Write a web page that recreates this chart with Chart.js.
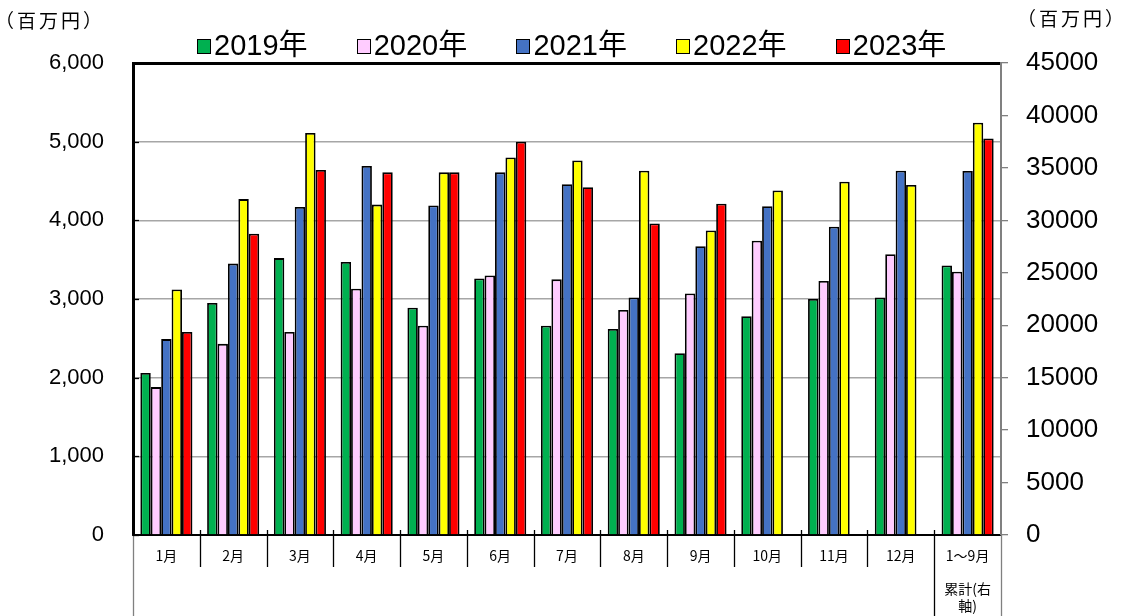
<!DOCTYPE html>
<html>
<head>
<meta charset="utf-8">
<script src="https://cdn.jsdelivr.net/npm/chart.js@4/dist/chart.umd.min.js"></script>
<style>
  html, body { margin: 0; padding: 0; background: #fff; }
  #wrap { position: relative; width: 1121px; height: 616px; }
  #c { position: absolute; left: 0; top: 0; }
  .unit { position: absolute; font-family: "Noto Sans CJK JP", sans-serif; font-size: 19px; letter-spacing: 3px; color: #000; line-height: 1; white-space: nowrap; }
  #legend { position: absolute; left: 197px; top: 28px; display: flex; }
  .li { width: 159.7px; display: flex; align-items: center; height: 34px; }
  .box { width: 12px; height: 13px; border: 1.6px solid #000; margin-right: 3px; margin-top: 2px; box-sizing: content-box; }
  .lt { font-family: "Liberation Sans", "Noto Sans CJK JP", sans-serif; font-size: 29px; color: #000; line-height: 1; }
</style>
</head>
<body>
<div id="wrap">
  <canvas id="c" width="1121" height="616"></canvas>
  <div class="unit" style="left:-5px; top:10px;">（百万円）</div>
  <div class="unit" style="left:1017px; top:8px;">（百万円）</div>
  <div id="legend"></div>
</div>
<script>
// ---- data ----
const categories = ['1月','2月','3月','4月','5月','6月','7月','8月','9月','10月','11月','12月',['1～9月','','累計(右','軸)']];
const years = ['2019年','2020年','2021年','2022年','2023年'];
const colors = ['#00B050','#FFCCFF','#4472C4','#FFFF00','#FF0000'];
const m2019 = [2060, 2950, 3520, 3470, 2890, 3260, 2660, 2620, 2310, 2780, 3000, 3020];
const m2020 = [1880, 2430, 2580, 3130, 2660, 3300, 3250, 2860, 3070, 3740, 3230, 3570];
const m2021 = [2490, 3450, 4170, 4690, 4190, 4610, 4460, 3020, 3670, 4180, 3920, 4630];
const m2022 = [3120, 4270, 5110, 4200, 4610, 4800, 4760, 4630, 3870, 4380, 4490, 4450];
const m2023 = [2580, 3830, 4640, 4610, 4610, 5000, 4420, 3960, 4210, null, null, null];
const cumJanSep = [25700, 25100, 34700, 39300, 37800]; // 1～9月累計 (right axis), per year
const leftTicks = {min: 0, max: 6000, step: 1000};
const rightTicks = {min: 0, max: 45000, step: 5000};

const monthly = [m2019, m2020, m2021, m2022, m2023];
const datasets = [];
years.forEach((y, i) => {
  datasets.push({
    label: y,
    data: monthly[i].concat([null]),
    backgroundColor: colors[i],
    borderColor: '#000',
    borderWidth: 1.8,
    yAxisID: 'y',
    stack: 's' + i
  });
  const cd = new Array(12).fill(null);
  cd.push(cumJanSep[i]);
  datasets.push({
    label: y + ' 累計',
    data: cd,
    backgroundColor: colors[i],
    borderColor: '#000',
    borderWidth: 1.8,
    yAxisID: 'y2',
    stack: 's' + i
  });
});

// HTML legend built from the arrays
const lg = document.getElementById('legend');
years.forEach((y, i) => {
  const it = document.createElement('div'); it.className = 'li';
  const b = document.createElement('span'); b.className = 'box'; b.style.background = colors[i];
  const t = document.createElement('span'); t.className = 'lt'; t.textContent = y;
  it.appendChild(b); it.appendChild(t); lg.appendChild(it);
});

const decor = {
  id: 'decor',
  afterDraw(chart) {
    const ctx = chart.ctx;
    const xs = chart.scales.x, ys = chart.scales.y;
    const n = xs.ticks.length;
    const w = xs.width / n;
    ctx.save();
    ctx.lineWidth = 1.3;
    for (let i = 0; i <= n; i++) {
      const bx = Math.round(xs.left + i * w) + 0.5;
      const long = (i === 0 || i === n - 1 || i === n);
      ctx.strokeStyle = (i === 0 || i === n) ? '#808080' : '#000';
      ctx.beginPath();
      ctx.moveTo(bx, (i === 0 || i === n) ? ys.bottom : ys.bottom - 5);
      ctx.lineTo(bx, long ? chart.height : ys.bottom + 32);
      ctx.stroke();
    }
    // inside tick marks on left axis
    ctx.strokeStyle = '#000';
    ys.ticks.forEach(t => {
      const py = Math.round(ys.getPixelForValue(t.value)) + 0.5;
      ctx.beginPath(); ctx.moveTo(xs.left, py); ctx.lineTo(xs.left + 6, py); ctx.stroke();
    });
    ctx.restore();
  }
};

new Chart(document.getElementById('c'), {
  type: 'bar',
  data: { labels: categories, datasets },
  plugins: [decor],
  options: {
    responsive: false,
    animation: false,
    layout: { padding: { top: 63, left: 0, right: 0, bottom: 0 } },
    datasets: { bar: { categoryPercentage: 0.78, barPercentage: 1.0 } },
    plugins: { legend: { display: false }, tooltip: { enabled: false } },
    scales: {
      x: {
        afterFit: s => { s.height = 81; },
        grid: { display: false, drawTicks: false },
        border: { display: true, color: '#000', width: 2 },
        ticks: {
          autoSkip: false, maxRotation: 0, minRotation: 0, padding: 12,
          color: '#000',
          font: { family: '"Noto Sans CJK JP", sans-serif', size: 14, lineHeight: 1.2 }
        }
      },
      y: {
        position: 'left',
        min: leftTicks.min, max: leftTicks.max,
        afterFit: s => { s.width = 133; },
        border: { display: true, color: '#000', width: 3 },
        grid: {
          drawTicks: false,
          color: c => c.tick.value === leftTicks.max ? '#000' : (c.tick.value === 0 ? 'rgba(0,0,0,0)' : '#a6a6a6'),
          lineWidth: c => c.tick.value === leftTicks.max ? 3 : 1.5
        },
        ticks: {
          stepSize: leftTicks.step, padding: 29, color: '#000',
          font: { family: '"Liberation Sans", Arial, sans-serif', size: 22 },
          callback: v => v.toLocaleString('en-US')
        }
      },
      y2: {
        position: 'right',
        min: rightTicks.min, max: rightTicks.max,
        afterFit: s => { s.width = 120; },
        border: { display: true, color: '#808080', width: 2 },
        grid: { drawOnChartArea: false, drawTicks: true, tickLength: 7, color: '#808080', lineWidth: 1.3 },
        ticks: {
          stepSize: rightTicks.step, padding: 18, color: '#000',
          font: { family: '"Liberation Sans", Arial, sans-serif', size: 26 },
          callback: v => String(v)
        }
      }
    }
  }
});
</script>
</body>
</html>
